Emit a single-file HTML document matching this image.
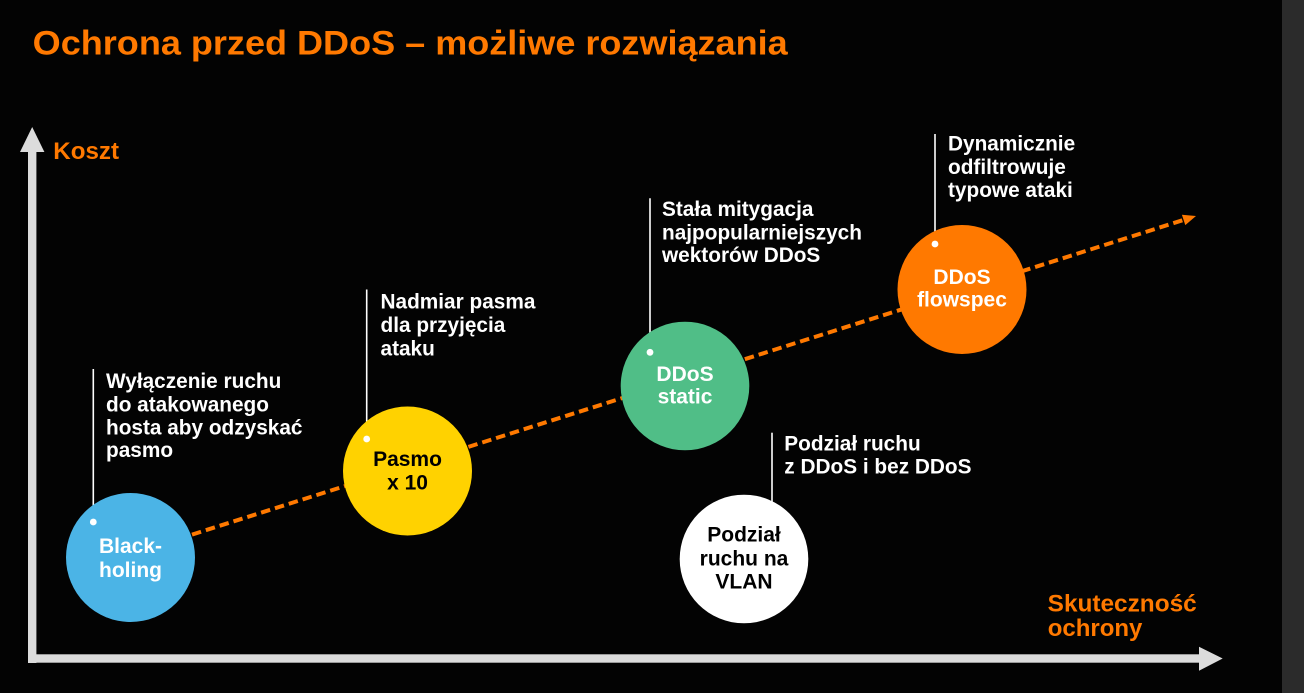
<!DOCTYPE html>
<html>
<head>
<meta charset="utf-8">
<style>
  html, body { margin: 0; padding: 0; background: #000; }
  body { width: 1304px; height: 693px; overflow: hidden; }
  svg { display: block; }
  text { font-family: "Liberation Sans", Arial, sans-serif; font-weight: bold; }
</style>
</head>
<body>
<svg width="1304" height="693" viewBox="0 0 1304 693" xmlns="http://www.w3.org/2000/svg">
  <rect x="0" y="0" width="1304" height="693" fill="#030303"/>
  <rect x="1282" y="0" width="22" height="693" fill="#2b2b2b"/>

  <!-- Title -->
  <text x="32.7" y="54.3" font-size="34" fill="#FF7900" textLength="755" lengthAdjust="spacingAndGlyphs">Ochrona przed DDoS – możliwe rozwiązania</text>

  <!-- Axes -->
  <rect x="28" y="150" width="8.4" height="513" fill="#DCDCDC"/>
  <polygon points="32.2,127 20,152 44.4,152" fill="#DCDCDC"/>
  <rect x="28" y="654.3" width="1172" height="8.4" fill="#DCDCDC"/>
  <polygon points="1199,646.7 1222.7,658.5 1199,670.7" fill="#DCDCDC"/>

  <text x="53.3" y="159" font-size="24" fill="#FF7900" textLength="65.7" lengthAdjust="spacingAndGlyphs">Koszt</text>
  <text x="1047.7" y="611.7" font-size="24" fill="#FF7900" textLength="149" lengthAdjust="spacingAndGlyphs">Skuteczność</text>
  <text x="1047.7" y="636" font-size="24" fill="#FF7900">ochrony</text>

  <!-- Dashed trend line -->
  <line x1="192" y1="534.6" x2="1184" y2="219.8" stroke="#FF7900" stroke-width="4" stroke-dasharray="9.5 5"/>
  <polygon points="1196,216 1185.3,225.1 1181.9,214.7" fill="#FF7900"/>

  <!-- Leader lines -->
  <g stroke="#FFFFFF" stroke-width="1.6">
    <line x1="93.3" y1="369" x2="93.3" y2="522"/>
    <line x1="366.7" y1="289.5" x2="366.7" y2="439"/>
    <line x1="650" y1="198.3" x2="650" y2="352.3"/>
    <line x1="935" y1="134" x2="935" y2="244"/>
    <line x1="772" y1="432.7" x2="772" y2="502"/>
  </g>

  <!-- Circles -->
  <circle cx="130.5" cy="557.5" r="64.5" fill="#4BB4E6"/>
  <circle cx="407.5" cy="471" r="64.5" fill="#FFD200"/>
  <circle cx="685" cy="386" r="64.3" fill="#50BE87"/>
  <circle cx="962" cy="289.5" r="64.5" fill="#FF7900"/>
  <circle cx="744" cy="559" r="64.3" fill="#FFFFFF"/>

  <!-- Dots -->
  <g fill="#FFFFFF">
    <circle cx="93.3" cy="522" r="3.4"/>
    <circle cx="366.7" cy="439" r="3.4"/>
    <circle cx="650" cy="352.3" r="3.4"/>
    <circle cx="935" cy="244" r="3.4"/>
  </g>

  <!-- Circle labels -->
  <g font-size="21" text-anchor="middle">
    <text x="130.5" y="553" fill="#FFFFFF">Black-</text>
    <text x="130.5" y="577" fill="#FFFFFF">holing</text>

    <text x="407.5" y="466" fill="#000000">Pasmo</text>
    <text x="407.5" y="489.3" fill="#000000">x 10</text>

    <text x="685" y="381" fill="#FFFFFF">DDoS</text>
    <text x="685" y="403.3" fill="#FFFFFF">static</text>

    <text x="962" y="284" fill="#FFFFFF">DDoS</text>
    <text x="962" y="306.7" fill="#FFFFFF">flowspec</text>

    <text x="744" y="541.7" fill="#000000">Podział</text>
    <text x="744" y="565.7" fill="#000000">ruchu na</text>
    <text x="744" y="588.3" fill="#000000">VLAN</text>
  </g>

  <!-- Annotations -->
  <g font-size="20.8" fill="#FFFFFF">
    <text x="106" y="388">Wyłączenie ruchu</text>
    <text x="106" y="411.5">do atakowanego</text>
    <text x="106" y="434.5">hosta aby odzyskać</text>
    <text x="106" y="457">pasmo</text>

    <text x="380.5" y="308.5">Nadmiar pasma</text>
    <text x="380.5" y="332">dla przyjęcia</text>
    <text x="380.5" y="355.5">ataku</text>

    <text x="662" y="216">Stała mitygacja</text>
    <text x="662" y="239.3">najpopularniejszych</text>
    <text x="662" y="262">wektorów DDoS</text>

    <text x="948" y="150.5">Dynamicznie</text>
    <text x="948" y="173.8">odfiltrowuje</text>
    <text x="948" y="197">typowe ataki</text>

    <text x="784.3" y="450.7">Podział ruchu</text>
    <text x="784.3" y="473.3">z DDoS i bez DDoS</text>
  </g>
</svg>
</body>
</html>
